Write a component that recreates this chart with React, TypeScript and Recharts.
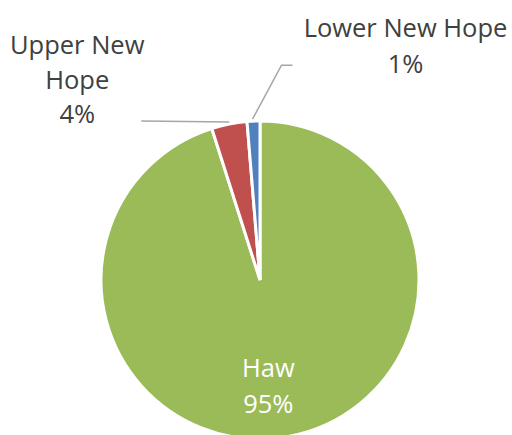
import { Cell, Pie, PieChart } from "recharts";

const categories = ["Haw", "Upper New Hope", "Lower New Hope"];
const shares = [95.1, 3.6, 1.3];
const percentLabels = ["95%", "4%", "1%"];
const labelLines = [["Haw"], ["Upper New", "Hope"], ["Lower New Hope"]];
const colors = ["#9BBB59", "#C0504D", "#4F81BD"];

const data = categories.map((name, i) => ({ name, value: shares[i] }));

const RAD = Math.PI / 180;
const FONT = "'Open Sans', sans-serif";
const FS = 25.5;
const TEXT = "#404040";
const LEADER = "#A6A6A6";

function polar(cx: number, cy: number, r: number, angle: number) {
  return { x: cx + r * Math.cos(-angle * RAD), y: cy + r * Math.sin(-angle * RAD) };
}

function renderLabel(props: any) {
  const { cx, cy, midAngle, outerRadius, index } = props;
  const lines = [...labelLines[index], percentLabels[index]];

  if (index === 0) {
    // inside label
    const p = polar(cx, cy, outerRadius * 0.67, midAngle);
    return (
      <g>
        {lines.map((t, i) => (
          <text key={t} x={p.x - 8} y={p.y - 18 + i * 36} textAnchor="middle" dominantBaseline="central"
            fill="#FFFFFF" fontSize={FS} fontFamily={FONT}>
            {t}
          </text>
        ))}
      </g>
    );
  }

  const edge = polar(cx, cy, outerRadius, midAngle);
  if (index === 1) {
    const end = { x: edge.x - 88, y: edge.y - 3 };
    return (
      <g>
        <polyline points={`${edge.x},${edge.y - 2} ${end.x},${end.y}`} fill="none" stroke={LEADER} strokeWidth={1.5} />
        {lines.map((t, i) => (
          <text key={t} x={end.x - 64} y={end.y - 77 + i * 34.5} textAnchor="middle" dominantBaseline="central"
            fill={TEXT} fontSize={FS} fontFamily={FONT}>
            {t}
          </text>
        ))}
      </g>
    );
  }

  const elbow = { x: edge.x + 28, y: edge.y - 56 };
  const end = { x: elbow.x + 11, y: elbow.y };
  return (
    <g>
      <polyline points={`${edge.x - 1},${edge.y - 2} ${elbow.x},${elbow.y} ${end.x},${end.y}`} fill="none"
        stroke={LEADER} strokeWidth={1.5} />
      {lines.map((t, i) => (
        <text key={t} x={elbow.x + 124} y={elbow.y - 38 + i * 36} textAnchor="middle" dominantBaseline="central"
          fill={TEXT} fontSize={FS} fontFamily={FONT}>
          {t}
        </text>
      ))}
    </g>
  );
}

export default function App() {
  return (
    <div style={{ position: "absolute", left: 0, top: 0, width: 512, height: 435, background: "#fff" }}>
      <PieChart width={512} height={435} margin={{ top: 0, right: 0, bottom: 0, left: 0 }}>
        <Pie
          data={data}
          dataKey="value"
          nameKey="name"
          cx={260}
          cy={280}
          outerRadius={159}
          startAngle={90}
          endAngle={-270}
          stroke="#FFFFFF"
          strokeWidth={3}
          label={renderLabel}
          labelLine={false}
          isAnimationActive={false}
        >
          {data.map((d, i) => (
            <Cell key={d.name} fill={colors[i]} />
          ))}
        </Pie>
      </PieChart>
    </div>
  );
}
